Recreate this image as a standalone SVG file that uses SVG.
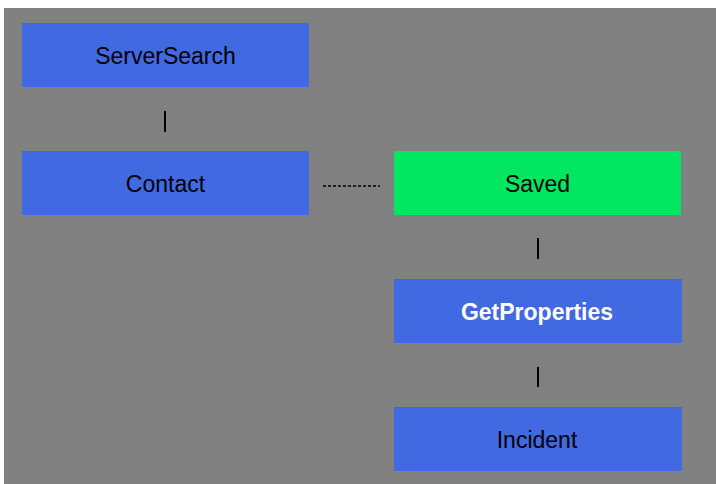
<svg xmlns="http://www.w3.org/2000/svg" width="716" height="484" viewBox="0 0 716 484">
<style>
.bg{fill:#808080}
.n{fill:#4169E1}
.g{fill:#00E660}
.t{font-family:"Liberation Sans",Arial,sans-serif;font-size:23px;fill:#000;text-anchor:middle}
.b{font-weight:bold;fill:#fff}
.c{stroke:#000;stroke-width:2;fill:none}
.d{stroke:#000;stroke-width:1.5;stroke-dasharray:3 2;fill:none}
</style>
<rect x="0" y="0" width="716" height="484" fill="#fff"/>
<rect class="bg" x="4" y="8" width="712" height="476"/>
<g id="connectors">
<line class="c" x1="165" y1="111" x2="165" y2="132"/>
<line class="d" x1="323" y1="186" x2="380" y2="186"/>
<line class="c" x1="538" y1="238" x2="538" y2="259"/>
<line class="c" x1="538" y1="367" x2="538" y2="387"/>
</g>
<g id="ServerSearch"><rect class="n" x="22" y="23" width="287" height="64"/><text class="t" x="165.5" y="64">ServerSearch</text></g>
<g id="Contact"><rect class="n" x="22" y="151" width="287" height="64"/><text class="t" x="165.5" y="192">Contact</text></g>
<g id="Saved"><rect class="g" x="394" y="151" width="287" height="64"/><text class="t" x="537.5" y="192">Saved</text></g>
<g id="GetProperties"><rect class="n" x="394" y="279" width="288" height="64"/><text class="t b" x="537" y="320">GetProperties</text></g>
<g id="Incident"><rect class="n" x="394" y="407" width="288" height="64"/><text class="t" x="537" y="448">Incident</text></g>
</svg>
